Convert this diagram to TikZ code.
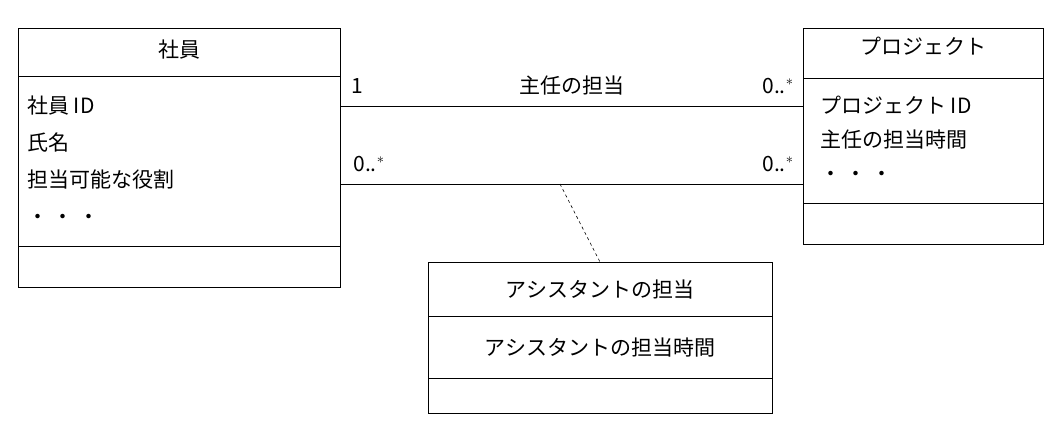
\documentclass[tikz,border=0pt]{standalone}
\usepackage{fontspec}
\setmainfont{Liberation Serif}
\newfontfamily\jp{Noto Sans CJK JP}
\begin{document}
\begin{tikzpicture}[x=1pt,y=-1pt,
  box/.style={draw,line width=0.8pt},
  ln/.style={line width=0.8pt},
  lab/.style={font=\fontsize{21}{25}\selectfont\jp,inner sep=0pt},
  attr/.style={font=\fontsize{21}{37}\selectfont\jp,align=left,anchor=north west,inner sep=0pt}]
\useasboundingbox (0,0) rectangle (1062,425);
% Employee
\draw[box] (18,28) rectangle (340,287);
\draw[ln] (18,76) -- (340,76); \draw[ln] (18,246) -- (340,246);
\node[lab] (et) at (179,50) {社員};
\node[attr] (ea) at (27,96) {社員 ID\\氏名\\担当可能な役割\\ ・ ・ ・};
% Project
\draw[box] (803,28) rectangle (1043,244);
\draw[ln] (803,78) -- (1043,78); \draw[ln] (803,203) -- (1043,203);
\node[lab] (pt) at (923,46) {プロジェクト};
\node[attr,font=\fontsize{21}{34}\selectfont\jp] (pa) at (820,96) {プロジェクト ID\\主任の担当時間\\ ・ ・ ・};
% Assistant
\draw[box] (428,262) rectangle (772,413);
\draw[ln] (428,316) -- (772,316); \draw[ln] (428,378) -- (772,378);
\node[lab] (at) at (600,290) {アシスタントの担当};
\node[lab] (aa) at (600,348) {アシスタントの担当時間};
% associations
\coordinate (l1) at (340,106); \coordinate (r1) at (803,106);
\coordinate (l2) at (340,184); \coordinate (r2) at (803,184);
\draw[ln] (l1) -- (r1); \draw[ln] (l2) -- (r2);
\coordinate (d1) at (560,184); \coordinate (d2) at (600,262);
\draw[ln,dashed,line width=0.6pt] (d1) -- (d2);
\node[lab] (m1) at (357,86) {1};
\node[lab] (n1) at (572,86) {主任の担当};
\node[lab] (m2) at (778,86) {0..$^*$};
\node[lab] (m3) at (369,164) {0..$^*$};
\node[lab] (m4) at (778,164) {0..$^*$};
\end{tikzpicture}
\end{document}
